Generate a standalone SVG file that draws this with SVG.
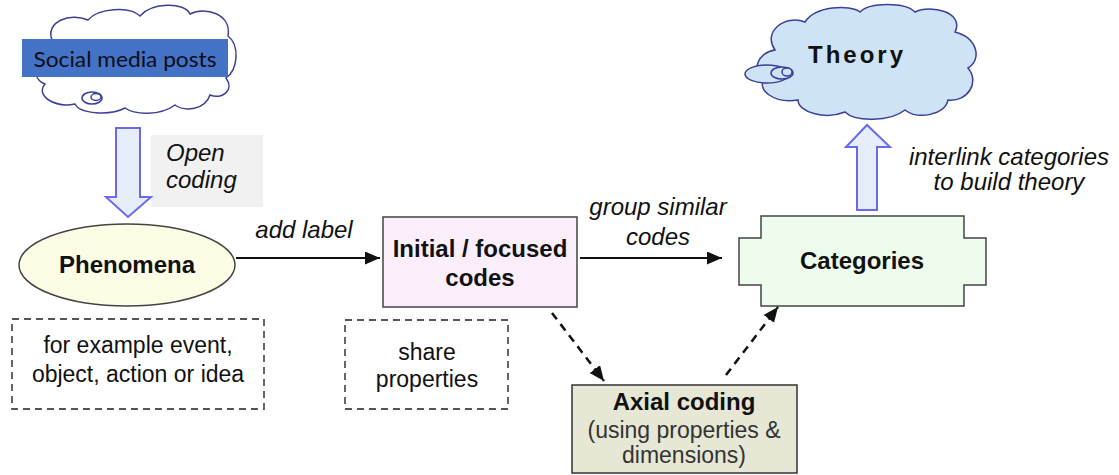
<svg xmlns="http://www.w3.org/2000/svg" width="1119" height="475" viewBox="0 0 1119 475">
<style>
text{font-family:"Liberation Sans",Arial,sans-serif;fill:#111;font-size:24px}
.b{font-weight:bold}
.i{font-style:italic}
.c{text-anchor:middle}
.cloud{stroke:#3c4096;stroke-width:1.5}
.blk{fill:#e6eefc;stroke:#6a6af0;stroke-width:2}
.node{stroke:#444;stroke-width:1.5}
.dbox{fill:none;stroke:#555;stroke-width:1.8;stroke-dasharray:7 5}
.con{fill:none;stroke:#111;stroke-width:2;marker-end:url(#ah)}
.dash{stroke-dasharray:8 6;stroke-width:2.5}
</style>
<defs>
<marker id="ah" markerUnits="userSpaceOnUse" markerWidth="16" markerHeight="14" refX="15" refY="6.5" orient="auto">
<path d="M0,0 L15,6.5 L0,13 Z" fill="#111"/>
</marker>
</defs>
<rect width="1119" height="475" fill="#fff"/>

<g id="social-media">
<path class="cloud" fill="#fff" d="M52,40 C45,22 70,12 88,20 C98,8 130,6 140,16 C152,2 185,2 190,14 C205,6 232,14 228,36 C240,45 238,70 226,78 C235,90 222,100 210,95 C205,110 185,112 175,105 C160,116 135,115 125,108 C110,116 80,114 75,104 C55,108 35,96 45,84 C30,78 35,60 50,56 C40,50 42,42 52,40 Z"/>
<ellipse class="cloud" fill="#fff" cx="92" cy="98" rx="10" ry="6"/>
<ellipse class="cloud" fill="#fff" cx="96" cy="97" rx="5" ry="3.5"/>
<rect x="22" y="39" width="206" height="38" fill="#4472c4"/>
<text x="125" y="67" class="c" style="font-family:Lato,'Noto Sans',sans-serif;font-size:22px;fill:#0d0d1a" textLength="183" lengthAdjust="spacingAndGlyphs">Social media posts</text>
</g>

<g id="open-coding">
<rect x="151" y="135" width="112" height="72" fill="#f1f1f1"/>
<path class="blk" d="M116,128 H140 V197 H151 L128,217 L106,197 H116 Z"/>
<text x="166" y="161" class="i">Open</text>
<text x="166" y="188" class="i">coding</text>
</g>

<g id="phenomena">
<ellipse cx="127" cy="265" rx="108" ry="41" fill="#fdfde6" class="node"/>
<text x="127" y="273" class="b c">Phenomena</text>
</g>

<g id="phenomena-note">
<rect x="12" y="319" width="252" height="90" class="dbox"/>
<text x="138" y="353" class="c" style="font-size:23px">for example event,</text>
<text x="138" y="382" class="c" style="font-size:23px">object, action or idea</text>
</g>

<g id="initial-codes">
<rect x="383" y="217" width="194" height="90" fill="#fbeefb" class="node"/>
<text x="480" y="257" class="b c">Initial / focused</text>
<text x="480" y="286" class="b c">codes</text>
</g>

<g id="codes-note">
<rect x="345" y="320" width="163" height="89" class="dbox"/>
<text x="427" y="360" class="c" style="font-size:23px">share</text>
<text x="427" y="387" class="c" style="font-size:23px">properties</text>
</g>

<g id="categories">
<path d="M761,216 H964 V238 H986 V285 H964 V306 H761 V285 H739 V238 H761 Z" fill="#edfcec" class="node"/>
<text x="862" y="269" class="b c">Categories</text>
</g>

<g id="axial-coding">
<rect x="572" y="385" width="225" height="88" fill="#e7e7d5" stroke="#333" stroke-width="1.5"/>
<text x="684" y="410" class="b c">Axial coding</text>
<text x="684" y="438" class="c" style="font-size:23px;fill:#333">(using properties &amp;</text>
<text x="684" y="463" class="c" style="font-size:23px;fill:#333">dimensions)</text>
</g>

<g id="theory">
<path class="cloud" fill="#cfe3f7" d="M775,50 C762,32 785,14 805,22 C815,6 850,4 860,12 C870,2 905,2 915,12 C930,4 965,12 955,32 C978,38 982,60 968,68 C980,82 968,102 948,100 C945,115 918,120 905,110 C890,122 855,122 845,112 C825,120 798,112 798,100 C775,104 755,90 765,78 C750,72 758,52 775,50 Z"/>
<ellipse class="cloud" fill="#cfe3f7" cx="767" cy="74" rx="22" ry="9"/>
<ellipse class="cloud" fill="#cfe3f7" cx="782" cy="73" rx="11" ry="6"/>
<ellipse class="cloud" fill="#cfe3f7" cx="787" cy="72" rx="5" ry="4"/>
<text x="857" y="63" class="b c" style="letter-spacing:3px">Theory</text>
</g>

<g id="connectors">
<path class="con" d="M236,258 H380"/>
<text x="304" y="238" class="i c">add label</text>
<path class="con" d="M580,258 H722"/>
<text x="658" y="215" class="i c">group similar</text>
<text x="658" y="245" class="i c">codes</text>
<path class="con dash" d="M552,313 L604,381"/>
<path class="con dash" d="M726,375 L778,307"/>
<path class="blk" d="M857,210 V147 H846 L867,125 L890,147 H877 V210 Z"/>
<text x="1009" y="165" class="i c">interlink categories</text>
<text x="1009" y="190" class="i c">to build theory</text>
</g>
</svg>
